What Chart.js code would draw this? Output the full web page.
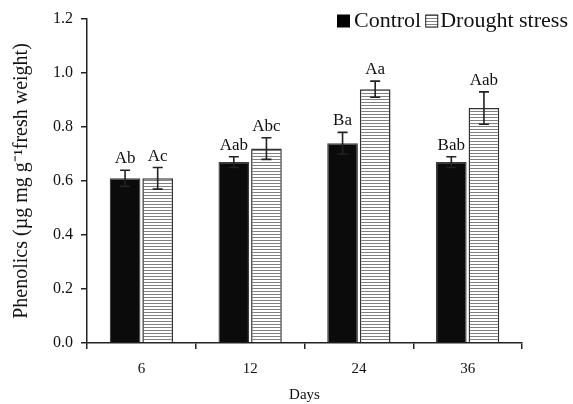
<!DOCTYPE html>
<html>
<head>
<meta charset="utf-8">
<script src="https://cdn.jsdelivr.net/npm/chart.js@4.4.0/dist/chart.umd.min.js"></script>
<style>
  html, body { margin:0; padding:0; background:#fff; }
  #wrap { width:573px; height:404px; position:relative; }
</style>
</head>
<body>
<div id="wrap"><canvas id="c"></canvas></div>
<script>
// ── data ─────────────────────────────────────────────
const days           = ["6", "12", "24", "36"];
const control        = [0.61, 0.67, 0.74, 0.67];
const controlErr     = [0.03, 0.02, 0.04, 0.02];
const drought        = [0.61, 0.72, 0.94, 0.87];
const droughtErr     = [0.04, 0.04, 0.03, 0.06];
const controlLetters = ["Ab", "Aab", "Ba", "Bab"];
const droughtLetters = ["Ac", "Abc", "Aa", "Aab"];

const SERIF = "'Liberation Serif', 'Times New Roman', serif";

// ── stripe pattern for drought bars ──────────────────
function stripePattern() {
    const p = document.createElement("canvas");
    p.width = 4; p.height = 3;
    const g = p.getContext("2d");
    g.fillStyle = "#ffffff"; g.fillRect(0, 0, 4, 3);
    g.fillStyle = "#808080"; g.fillRect(0, 0, 4, 1);
    return g.createPattern(p, "repeat");
}
const stripes = stripePattern();

// ── error bars + letters ─────────────────────────────
const errorBarPlugin = {
    id: "errorBars",
    afterDatasetsDraw(c) {
        const { ctx } = c;
        const y = c.scales.y;
        const errs = [controlErr, droughtErr];
        const letters = [controlLetters, droughtLetters];
        ctx.save();
        c.data.datasets.forEach((ds, di) => {
            const meta = c.getDatasetMeta(di);
            meta.data.forEach((bar, i) => {
                const v = ds.data[i], e = errs[di][i];
                const top = y.getPixelForValue(v + e), bot = y.getPixelForValue(v - e);
                ctx.strokeStyle = "#222"; ctx.lineWidth = 1.6;
                ctx.beginPath();
                ctx.moveTo(bar.x, top); ctx.lineTo(bar.x, bot);
                ctx.moveTo(bar.x - 5, top); ctx.lineTo(bar.x + 5, top);
                ctx.moveTo(bar.x - 5, bot); ctx.lineTo(bar.x + 5, bot);
                ctx.stroke();
                ctx.fillStyle = "#111";
                ctx.font = "17px " + SERIF;
                ctx.textAlign = "center"; ctx.textBaseline = "alphabetic";
                ctx.fillText(letters[di][i], bar.x, top - 7);
            });
        });
        ctx.restore();
    }
};

// ── legend (top right, overlapping the plot) ─────────
const legendPlugin = {
    id: "cornerLegend",
    afterDraw(c) {
        const { ctx } = c;
        ctx.save();
        ctx.font = "22px " + SERIF;
        ctx.textBaseline = "middle"; ctx.textAlign = "left";
        const yMid = 21, box = 13;
        let x = 337;
        ctx.fillStyle = "#000"; ctx.fillRect(x, yMid - box / 2, box, box);
        x += box + 4;
        ctx.fillStyle = "#111"; ctx.fillText("Control", x, yMid);
        x += ctx.measureText("Control").width + 4;
        ctx.fillStyle = stripes; ctx.fillRect(x, yMid - box / 2, box, box);
        ctx.strokeStyle = "#222"; ctx.lineWidth = 1;
        ctx.strokeRect(x + 0.5, yMid - box / 2 + 0.5, box - 1, box - 1);
        x += box + 2;
        ctx.fillStyle = "#111"; ctx.fillText("Drought stress", x, yMid);
        ctx.restore();
    }
};

// ── chart ────────────────────────────────────────────
new Chart(document.getElementById("c"), {
    type: "bar",
    data: {
        labels: days,
        datasets: [
            { label: "Control", data: control, backgroundColor: "#0b0b0b",
              borderColor: "#3a3a3a", borderWidth: 1.2,
              categoryPercentage: 0.6, barPercentage: 0.94 },
            { label: "Drought stress", data: drought, backgroundColor: stripes,
              borderColor: "#333", borderWidth: 1.5,
              categoryPercentage: 0.6, barPercentage: 0.94 },
        ]
    },
    options: {
        responsive: true, maintainAspectRatio: false,
        animation: false,
        layout: { padding: { left: 10, right: 51, top: 19, bottom: 0 } },
        plugins: { legend: { display: false }, tooltip: { enabled: false } },
        scales: {
            x: {
                grid: { offset: true, drawOnChartArea: false, drawTicks: true,
                        tickLength: 6, color: "#222", lineWidth: 1.5 },
                border: { color: "#222", width: 1.5 },
                ticks: { color: "#111", font: { family: SERIF, size: 15 }, padding: 11 },
                title: { display: true, text: "Days", color: "#111",
                         font: { family: SERIF, size: 15 }, padding: { top: 6, bottom: 0 } },
                afterFit: (s) => { s.height = 61; },
            },
            y: {
                min: 0, max: 1.2,
                grid: { drawOnChartArea: false, drawTicks: true,
                        tickLength: 6, color: "#222", lineWidth: 1.5 },
                border: { color: "#222", width: 1.5 },
                ticks: { stepSize: 0.2, color: "#111", font: { family: SERIF, size: 16 },
                         padding: 8, callback: (v) => v.toFixed(1) },
                title: { display: true, text: "Phenolics (µg mg g\u207B\u00B9fresh weight)", color: "#111",
                         font: { family: SERIF, size: 20 }, padding: { top: 0, bottom: 0 } },
                afterFit: (s) => { s.width = 77; },
            }
        }
    },
    plugins: [errorBarPlugin, legendPlugin]
});
</script>
</body>
</html>
